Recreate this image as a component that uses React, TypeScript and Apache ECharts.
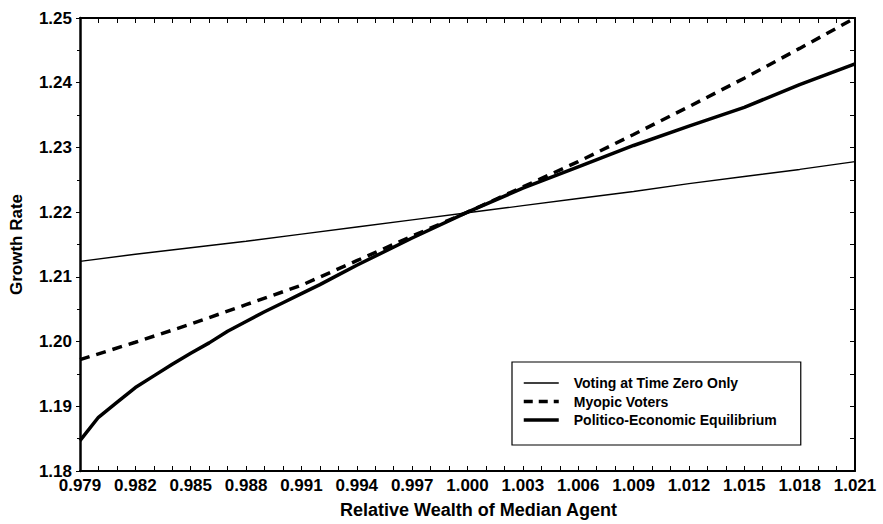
import React, { useEffect, useRef } from "react";
import * as echarts from "echarts";

// Relative wealth of median agent (x) and growth rate (y)
const votingX = [0.979, 0.982, 0.985, 0.988, 0.991, 0.994, 0.997, 1.0, 1.003, 1.006, 1.009, 1.012, 1.015, 1.018, 1.021];
const votingY = [1.2124, 1.2135, 1.2145, 1.2155, 1.2166, 1.2177, 1.2188, 1.2199, 1.221, 1.2221, 1.2232, 1.2244, 1.2255, 1.2266, 1.2278];

const myopicX = [0.979, 0.982, 0.985, 0.988, 0.991, 0.994, 0.997, 1.0, 1.003, 1.006, 1.009, 1.012, 1.015, 1.018, 1.021];
const myopicY = [1.1972, 1.1999, 1.2027, 1.2057, 1.2087, 1.2125, 1.2163, 1.22, 1.2239, 1.2278, 1.232, 1.2363, 1.2407, 1.2453, 1.25];

const peeX = [0.979, 0.98, 0.981, 0.982, 0.983, 0.984, 0.985, 0.986, 0.987, 0.988, 0.989, 0.99, 0.991, 0.992, 0.993, 0.994, 0.997, 1.0, 1.003, 1.006, 1.009, 1.012, 1.015, 1.018, 1.021];
const peeY = [1.1847, 1.1883, 1.1906, 1.1929, 1.1947, 1.1965, 1.1982, 1.1998, 1.2016, 1.2031, 1.2046, 1.206, 1.2074, 1.2088, 1.2103, 1.2118, 1.216, 1.22, 1.2237, 1.227, 1.2303, 1.2333, 1.2362, 1.2397, 1.2429];

const seriesNames = ["Voting at Time Zero Only", "Myopic Voters", "Politico-Economic Equilibrium"];
const lineWidths = [1.4, 3.5, 3.5];
const xTitle = "Relative Wealth of Median Agent";
const yTitle = "Growth Rate";

const FONT = "'Liberation Sans', Arial, Helvetica, sans-serif";

function pairs(xs: number[], ys: number[]) {
  return xs.map((x, i) => [x, ys[i]]);
}

export default function App() {
  const ref = useRef<HTMLDivElement>(null);
  useEffect(() => {
    if (!ref.current) return;
    const chart = echarts.init(ref.current, undefined, { renderer: "svg" });
    chart.setOption({
      animation: false,
      grid: { left: 80, right: 28, top: 18, bottom: 53 },
      legend: {
        data: seriesNames.map((n, i) => ({
          name: n,
          itemStyle: { opacity: 0 },
          lineStyle: { width: lineWidths[i], color: "#000", type: i === 1 ? [9, 6] : "solid" },
        })),
        orient: "vertical",
        left: 512,
        top: 362,
        padding: [14, 24, 18, 10],
        itemWidth: 35,
        itemHeight: 14,
        itemGap: 4.5,
        borderColor: "#000",
        borderWidth: 1.2,
        backgroundColor: "#fff",
        textStyle: { fontFamily: FONT, fontSize: 14, fontWeight: "bold", color: "#000", padding: [0, 0, 0, 10] },
      },
      xAxis: [
        {
          type: "value",
          min: 0.979,
          max: 1.021,
          interval: 0.001,
          position: "bottom",
          splitLine: { show: false },
          name: xTitle,
          nameLocation: "middle",
          nameGap: 30,
          nameTextStyle: { fontFamily: FONT, fontSize: 18, fontWeight: "bold", color: "#000", padding: [0, 0, 0, 22] },
          axisLine: { show: true, lineStyle: { color: "#000", width: 2 } },
          axisTick: { show: true, inside: true, length: 5 },
          axisLabel: {
            fontFamily: FONT,
            fontSize: 17,
            fontWeight: "bold",
            color: "#000",
            margin: 6,
            formatter: (v: number) => {
              const k = Math.round(v * 1000) - 979;
              return k % 3 === 0 ? v.toFixed(3) : "";
            },
          },
        },
        {
          type: "value",
          min: 0.979,
          max: 1.021,
          interval: 0.001,
          position: "top",
          splitLine: { show: false },
          axisLine: { show: true, lineStyle: { color: "#000", width: 2 } },
          axisTick: { show: true, inside: true, length: 5 },
          axisLabel: { show: false },
        },
      ],
      yAxis: [
        {
          type: "value",
          position: "left",
          min: 1.18,
          max: 1.25,
          interval: 0.01,
          name: yTitle,
          nameLocation: "middle",
          nameGap: 55,
          nameTextStyle: { fontFamily: FONT, fontSize: 17, fontWeight: "bold", color: "#000" },
          splitLine: { show: false },
          axisLine: { show: true, lineStyle: { color: "#000", width: 2.5 } },
          axisTick: { show: true, length: 4 },
          minorTick: { show: true, splitNumber: 2, length: 3 },
          axisLabel: {
            fontFamily: FONT,
            fontSize: 17,
            fontWeight: "bold",
            color: "#000",
            margin: 8,
            formatter: (v: number) => v.toFixed(2),
          },
        },
        {
          type: "value",
          position: "right",
          min: 1.18,
          max: 1.25,
          interval: 0.005,
          splitLine: { show: false },
          axisLine: { show: true, lineStyle: { color: "#000", width: 2 } },
          axisTick: { show: true, inside: true, length: 5 },
          axisLabel: { show: false },
        },
      ],
      series: [
        {
          name: seriesNames[0],
          type: "line",
          data: pairs(votingX, votingY),
          symbol: "none",
          color: "#000",
          lineStyle: { color: "#000", width: lineWidths[0], type: "solid" },
        },
        {
          name: seriesNames[1],
          type: "line",
          data: pairs(myopicX, myopicY),
          symbol: "none",
          color: "#000",
          lineStyle: { color: "#000", width: lineWidths[1], type: [10, 7], cap: "butt" },
        },
        {
          name: seriesNames[2],
          type: "line",
          data: pairs(peeX, peeY),
          symbol: "none",
          color: "#000",
          lineStyle: { color: "#000", width: lineWidths[2], type: "solid" },
        },
      ],
    });
    return () => chart.dispose();
  }, []);
  return (
    <div
      ref={ref}
      style={{ position: "fixed", left: 0, top: 0, width: 883, height: 524, background: "#fff" }}
    />
  );
}
